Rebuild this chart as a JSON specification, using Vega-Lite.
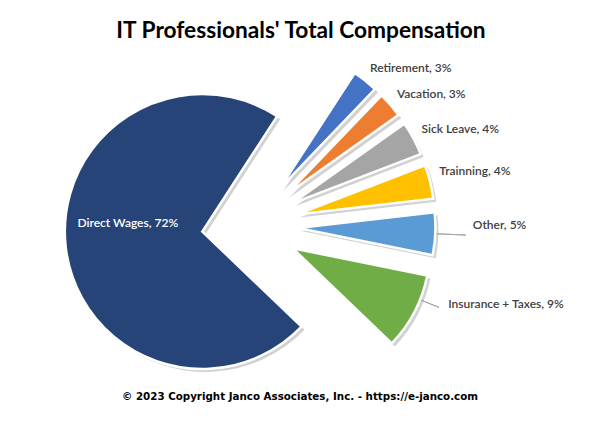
{
  "$schema": "https://vega.github.io/schema/vega-lite/v6.json",
  "width": 500,
  "height": 362,
  "autosize": "none",
  "padding": {"left": 0, "top": 45, "right": 103, "bottom": 23},
  "background": "white",
  "title": {
    "text": "IT Professionals' Total Compensation",
    "font": "Lato",
    "fontSize": 22.7,
    "fontWeight": "bold",
    "color": "#000000",
    "anchor": "middle",
    "dx": 51,
    "offset": 2
  },
  "config": {"view": {"stroke": null}},
  "layer": [
    {
      "data": {
        "values": [
          {"cat": "Retirement", "pct": 3, "label": "Retirement, 3%"},
          {"cat": "Vacation", "pct": 3, "label": "Vacation, 3%"},
          {"cat": "Sick Leave", "pct": 4, "label": "Sick Leave, 4%"},
          {"cat": "Trainning", "pct": 4, "label": "Trainning, 4%"},
          {"cat": "Other", "pct": 5, "label": "Other, 5%"},
          {"cat": "Insurance + Taxes", "pct": 9, "label": "Insurance + Taxes, 9%"},
          {"cat": "Direct Wages", "pct": 72, "label": "Direct Wages, 72%"}
        ]
      },
      "encoding": {
        "theta": {"field": "pct", "type": "quantitative", "stack": true, "scale": {"domain": [0, 100], "range": [0.576, 6.8592]}},
        "order": {"field": "pct", "sort": "ascending"}
      },
      "layer": [
        {
          "mark": {
            "type": "arc",
            "radius": 137.5,
            "fill": "#000000",
            "opacity": 0.18,
            "xOffset": {"expr": "3 + 48*sin(0.576 + PI*(datum.pct_start + datum.pct_end)/100)"},
            "yOffset": {"expr": "3 - 48*cos(0.576 + PI*(datum.pct_start + datum.pct_end)/100)"}
          },
          "encoding": {}
        },
        {
          "mark": {
            "type": "arc",
            "radius": 137.5,
            "stroke": "white",
            "strokeWidth": 2.5,
            "xOffset": {"expr": "48*sin(0.576 + PI*(datum.pct_start + datum.pct_end)/100)"},
            "yOffset": {"expr": "-48*cos(0.576 + PI*(datum.pct_start + datum.pct_end)/100)"}
          },
          "encoding": {
            "color": {
              "field": "cat",
              "type": "nominal",
              "legend": null,
              "scale": {
                "domain": ["Retirement", "Vacation", "Sick Leave", "Trainning", "Other", "Insurance + Taxes", "Direct Wages"],
                "range": ["#4472C4", "#ED7D31", "#A5A5A5", "#FFC000", "#5B9BD5", "#70AD47", "#264478"]
              }
            }
          }
        },
        {
          "mark": {
            "type": "arc",
            "radius": {"expr": "datum.cat == 'Other' ? 168 : 158"},
            "radius2": 139,
            "padAngle": 3,
            "fill": null,
            "strokeWidth": 1,
            "thetaOffset": {"expr": "datum.cat == 'Insurance + Taxes' ? -0.098 : 0"},
            "xOffset": {"expr": "48*sin(0.576 + PI*(datum.pct_start + datum.pct_end)/100)"},
            "yOffset": {"expr": "-48*cos(0.576 + PI*(datum.pct_start + datum.pct_end)/100)"}
          },
          "encoding": {
            "stroke": {
              "condition": {"test": "datum.cat == 'Other' || datum.cat == 'Insurance + Taxes'", "value": "#a6a6a6"},
              "value": null
            }
          }
        },
        {
          "mark": {
            "type": "text",
            "radius": {"expr": "datum.cat == 'Other' ? 175 : datum.cat == 'Insurance + Taxes' ? 170 : 150"},
            "align": "left",
            "baseline": "middle",
            "font": "Lato",
            "fontSize": 12,
            "fontWeight": 600,
            "fill": "#404040",
            "dx": {"expr": "datum.cat == 'Other' ? 0 : datum.cat == 'Insurance + Taxes' ? 5 : -3"},
            "dy": {"expr": "datum.cat == 'Trainning' ? -8 : datum.cat == 'Other' ? -10 : datum.cat == 'Insurance + Taxes' ? -23 : -3"},
            "xOffset": {"expr": "48*sin(0.576 + PI*(datum.pct_start + datum.pct_end)/100)"},
            "yOffset": {"expr": "-48*cos(0.576 + PI*(datum.pct_start + datum.pct_end)/100)"}
          },
          "encoding": {
            "text": {"condition": {"test": "datum.cat != 'Direct Wages'", "field": "label"}, "value": ""}
          }
        },
        {
          "mark": {
            "type": "text",
            "radius": 75,
            "align": "center",
            "baseline": "middle",
            "font": "Lato",
            "fontSize": 12,
            "fontWeight": 600,
            "fill": "white",
            "dy": -17,
            "xOffset": {"expr": "48*sin(0.576 + PI*(datum.pct_start + datum.pct_end)/100)"},
            "yOffset": {"expr": "-48*cos(0.576 + PI*(datum.pct_start + datum.pct_end)/100)"}
          },
          "encoding": {
            "text": {"condition": {"test": "datum.cat == 'Direct Wages'", "field": "label"}, "value": ""}
          }
        }
      ]
    },
    {
      "data": {"values": [{"footer": "© 2023 Copyright Janco Associates, Inc. - https://e-janco.com"}]},
      "mark": {
        "type": "text",
        "font": "DejaVu Sans",
        "fontWeight": "bold",
        "fontSize": 10.3,
        "fill": "#000000",
        "align": "center",
        "baseline": "middle",
        "dx": 50,
        "dy": 171
      },
      "encoding": {"text": {"field": "footer"}}
    }
  ]
}
